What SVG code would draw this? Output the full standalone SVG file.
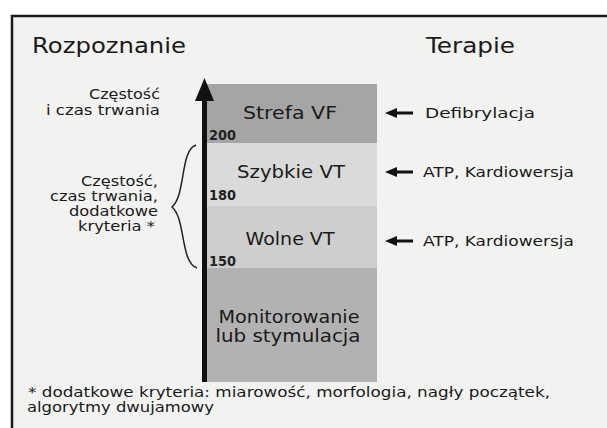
<svg xmlns="http://www.w3.org/2000/svg" width="607" height="428" viewBox="0 0 607 428">
<defs>
<style>
text{font-family:"DejaVu Sans","Verdana",sans-serif;fill:#1a1a1a}
.h{font-size:21px}
.band{font-size:18px;text-anchor:middle}
.side{font-size:14.5px;text-anchor:end}
.th{font-size:14.5px}
.num{font-size:13.5px;font-weight:bold;fill:#222}
.fn{font-size:14.5px}
.arrow{fill:#111}
</style>
</defs>
<rect x="0" y="0" width="607" height="428" fill="#ffffff"/>
<rect x="12" y="16" width="700" height="500" fill="#f2f2f1" stroke="#1a1a1a" stroke-width="2.5"/>
<text class="h" x="32" y="53" textLength="154" lengthAdjust="spacingAndGlyphs">Rozpoznanie</text>
<text class="h" x="426" y="53" textLength="89" lengthAdjust="spacingAndGlyphs">Terapie</text>
<g id="axis-label">
<text class="side" x="160" y="99" textLength="71" lengthAdjust="spacingAndGlyphs">Częstość</text>
<text class="side" x="160" y="115" textLength="114" lengthAdjust="spacingAndGlyphs">i czas trwania</text>
</g>
<g id="zone-vf">
<rect x="207" y="84" width="170" height="59" fill="#a5a5a5"/>
<text class="band" x="290" y="119" textLength="94" lengthAdjust="spacingAndGlyphs">Strefa VF</text>
<text class="num" x="209" y="140" textLength="27" lengthAdjust="spacingAndGlyphs">200</text>
</g>
<g id="zone-fast-vt">
<rect x="207" y="143" width="170" height="63" fill="#dadada"/>
<text class="band" x="291" y="178" textLength="108" lengthAdjust="spacingAndGlyphs">Szybkie VT</text>
<text class="num" x="209" y="200" textLength="27" lengthAdjust="spacingAndGlyphs">180</text>
</g>
<g id="zone-slow-vt">
<rect x="207" y="206" width="170" height="62" fill="#cecece"/>
<text class="band" x="290" y="245" textLength="89" lengthAdjust="spacingAndGlyphs">Wolne VT</text>
<text class="num" x="209" y="266" textLength="27" lengthAdjust="spacingAndGlyphs">150</text>
</g>
<g id="zone-monitor">
<rect x="207" y="268" width="170" height="114" fill="#b2b2b2"/>
<text class="band" x="289" y="323" textLength="141" lengthAdjust="spacingAndGlyphs">Monitorowanie</text>
<text class="band" x="288" y="342" textLength="145" lengthAdjust="spacingAndGlyphs">lub stymulacja</text>
</g>
<g id="criteria">
<text class="side" x="158" y="186" textLength="77" lengthAdjust="spacingAndGlyphs">Częstość,</text>
<text class="side" x="158" y="201" textLength="108" lengthAdjust="spacingAndGlyphs">czas trwania,</text>
<text class="side" x="158" y="216" textLength="89" lengthAdjust="spacingAndGlyphs">dodatkowe</text>
<text class="side" x="155" y="231" textLength="77" lengthAdjust="spacingAndGlyphs">kryteria *</text>
</g>
<g id="therapy-defib"><text class="th" x="425" y="118" textLength="110" lengthAdjust="spacingAndGlyphs">Defibrylacja</text></g>
<g id="therapy-atp1"><text class="th" x="423" y="177" textLength="151" lengthAdjust="spacingAndGlyphs">ATP, Kardiowersja</text></g>
<g id="therapy-atp2"><text class="th" x="423" y="246" textLength="151" lengthAdjust="spacingAndGlyphs">ATP, Kardiowersja</text></g>
<g id="footnote">
<text class="fn" x="28" y="397" textLength="522" lengthAdjust="spacingAndGlyphs">* dodatkowe kryteria: miarowość, morfologia, nagły początek,</text>
<text class="fn" x="27" y="412" textLength="187" lengthAdjust="spacingAndGlyphs">algorytmy dwujamowy</text>
</g>
<g id="connectors">
<rect x="202" y="96" width="5" height="286" fill="#111"/>
<path class="arrow" d="M204.5,78 L214,101 L195,101 Z"/>
<path d="M196,145 C180,150 186,195 172,207 C186,219 180,262 197,268" fill="none" stroke="#222" stroke-width="1.5"/>
<path class="arrow" d="M385,113 L397,108 L397,111.5 L413,111.5 L413,114.5 L397,114.5 L397,118 Z"/>
<path class="arrow" d="M385,172 L397,167 L397,170.5 L413,170.5 L413,173.5 L397,173.5 L397,177 Z"/>
<path class="arrow" d="M385,241 L397,236 L397,239.5 L413,239.5 L413,242.5 L397,242.5 L397,246 Z"/>
</g>
</svg>
